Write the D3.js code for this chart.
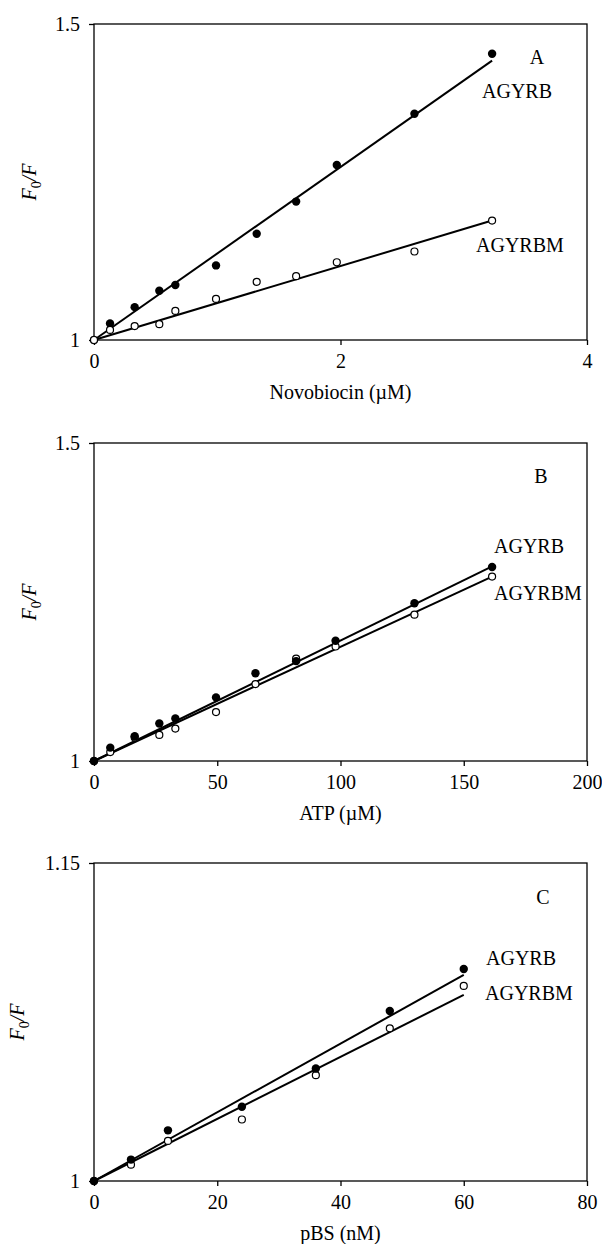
<!DOCTYPE html>
<html lang="en">
<head>
<meta charset="utf-8">
<script src="https://d3js.org/d3.v7.min.js"></script>
<style>
  body { margin: 0; background: #fff; }
  text { font-family: "Liberation Serif", "Times New Roman", serif; font-size: 20px; fill: #000; }
</style>
</head>
<body>
<div id="chart"></div>
<script>
// ---- data ----
// Panel A: novobiocin titration
const xA = [0, 0.13, 0.33, 0.53, 0.66, 0.99, 1.32, 1.64, 1.97, 2.6, 3.23];
const agyrbA = [1, 1.026, 1.052, 1.078, 1.087, 1.118, 1.168, 1.219, 1.277, 1.358, 1.453];
const agyrbmA = [1, 1.016, 1.022, 1.025, 1.046, 1.065, 1.092, 1.101, 1.123, 1.140, 1.189];
const fitXA = [0, 3.23];
const fitAgyrbA = [1, 1.442];
const fitAgyrbmA = [1, 1.189];

// Panel B: ATP titration
const xB = [0, 6.6, 16.5, 26.5, 33, 49.5, 65.5, 82, 98, 130, 161.5];
const agyrbB = [1, 1.021, 1.039, 1.059, 1.067, 1.100, 1.138, 1.157, 1.189, 1.248, 1.305];
const agyrbmB = [1, 1.014, 1.037, 1.041, 1.051, 1.077, 1.121, 1.161, 1.180, 1.230, 1.290];
const fitXB = [0, 161.5];
const fitAgyrbB = [1, 1.306];
const fitAgyrbmB = [1, 1.290];

// Panel C: pBS titration
const xC = [0, 6, 12, 24, 36, 48, 60];
const agyrbC = [1, 1.0101, 1.0239, 1.035, 1.0531, 1.0802, 1.1000];
const agyrbmC = [1, 1.0077, 1.0189, 1.029, 1.0499, 1.072, 1.092];
const fitXC = [0, 60];
const fitAgyrbC = [1, 1.0972];
const fitAgyrbmC = [1, 1.0878];

// axis ranges and ticks
const xTicksA = [0, 2, 4], yTicksA = [1, 1.5];
const xTicksB = [0, 50, 100, 150, 200], yTicksB = [1, 1.5];
const xTicksC = [0, 20, 40, 60, 80], yTicksC = [1, 1.15];

// ---- layout ----
const W = 602, H = 1244;
const left = 94, right = 587;

const panels = [
  { letter: "A", title: "Novobiocin (\u00b5M)", top: 24, bottom: 340,
    x: xA, b: agyrbA, bm: agyrbmA, fx: fitXA, fb: fitAgyrbA, fbm: fitAgyrbmA,
    xt: xTicksA, yt: yTicksA, yFmt: d3.format(".1f"), openOnTop: true, ytx: 29,
    lab: { letter: [537, 40], b: [482, 74], bm: [476, 228] } },
  { letter: "B", title: "ATP (\u00b5M)", top: 443, bottom: 761,
    x: xB, b: agyrbB, bm: agyrbmB, fx: fitXB, fb: fitAgyrbB, fbm: fitAgyrbmB,
    xt: xTicksB, yt: yTicksB, yFmt: d3.format(".1f"), openOnTop: false, ytx: 29,
    lab: { letter: [541, 40], b: [494, 110], bm: [494, 157] } },
  { letter: "C", title: "pBS (nM)", top: 863, bottom: 1181,
    x: xC, b: agyrbC, bm: agyrbmC, fx: fitXC, fb: fitAgyrbC, fbm: fitAgyrbmC,
    xt: xTicksC, yt: yTicksC, yFmt: d3.format(".2f"), openOnTop: false, ytx: 17,
    lab: { letter: [543, 41], b: [486, 102], bm: [485, 137] } }
];

const svg = d3.select("#chart").append("svg")
  .attr("width", W)
  .attr("height", H);

svg.append("rect").attr("width", W).attr("height", H).attr("fill", "#fff");

panels.forEach(p => {
  const x = d3.scaleLinear().domain(d3.extent(p.xt)).range([left, right]);
  const y = d3.scaleLinear().domain(d3.extent(p.yt)).range([p.bottom, p.top]);
  const g = svg.append("g");

  // frame
  g.append("rect")
    .attr("x", left).attr("y", p.top)
    .attr("width", right - left).attr("height", p.bottom - p.top)
    .attr("fill", "none").attr("stroke", "#000").attr("stroke-width", 1.3);

  // axes
  const fmtX = d => d3.format("d")(d);
  const xa = g.append("g")
    .attr("transform", `translate(0,${p.bottom})`)
    .call(d3.axisBottom(x).tickValues(p.xt).tickFormat(fmtX).tickSize(5).tickSizeOuter(0).tickPadding(9));
  const ya = g.append("g")
    .attr("transform", `translate(${left},0)`)
    .call(d3.axisLeft(y).tickValues(p.yt).tickFormat(d => d === 1 ? "1" : p.yFmt(d)).tickSize(5).tickSizeOuter(0).tickPadding(9));
  [xa, ya].forEach(a => {
    a.select(".domain").remove();
    a.selectAll("line").attr("stroke", "#000").attr("stroke-width", 1.3);
    a.selectAll("text").style("font-size", "20px").attr("font-family", null).attr("fill", "#000");
  });
  ya.selectAll("text").attr("dy", "0.34em");

  // axis titles
  g.append("text")
    .attr("x", (left + right) / 2)
    .attr("y", p.bottom + 59)
    .attr("text-anchor", "middle")
    .text(p.title);

  const yt = g.append("text")
    .attr("transform", `translate(${p.ytx},${(p.top + p.bottom) / 2}) rotate(-90)`)
    .attr("text-anchor", "middle")
    .attr("dy", "0.35em")
    .style("font-style", "italic");
  yt.append("tspan").text("F");
  yt.append("tspan").text("0").style("font-size", "14px").style("font-style", "normal").attr("dy", "5");
  yt.append("tspan").text("/F").attr("dy", "-5");

  // fit lines
  const line = d3.line().x(d => x(d[0])).y(d => y(d[1]));
  [p.fb, p.fbm].forEach(f => {
    g.append("path")
      .datum(p.fx.map((v, i) => [v, f[i]]))
      .attr("d", line)
      .attr("fill", "none")
      .attr("stroke", "#000")
      .attr("stroke-width", 2);
  });

  // points
  const drawFilled = () => g.append("g").selectAll("circle")
    .data(p.x.map((v, i) => [v, p.b[i]]))
    .join("circle")
    .attr("cx", d => x(d[0])).attr("cy", d => y(d[1]))
    .attr("r", 4.2).attr("fill", "#000");
  const drawOpen = () => g.append("g").selectAll("circle")
    .data(p.x.map((v, i) => [v, p.bm[i]]))
    .join("circle")
    .attr("cx", d => x(d[0])).attr("cy", d => y(d[1]))
    .attr("r", 3.5).attr("fill", "#fff").attr("stroke", "#000").attr("stroke-width", 1.2);
  if (p.openOnTop) { drawFilled(); drawOpen(); } else { drawOpen(); drawFilled(); }

  // labels
  g.append("text")
    .attr("x", p.lab.letter[0]).attr("y", p.top + p.lab.letter[1])
    .attr("text-anchor", "middle").text(p.letter);
  g.append("text")
    .attr("x", p.lab.b[0]).attr("y", p.top + p.lab.b[1]).text("AGYRB");
  g.append("text")
    .attr("x", p.lab.bm[0]).attr("y", p.top + p.lab.bm[1]).text("AGYRBM");
});
</script>
</body>
</html>
